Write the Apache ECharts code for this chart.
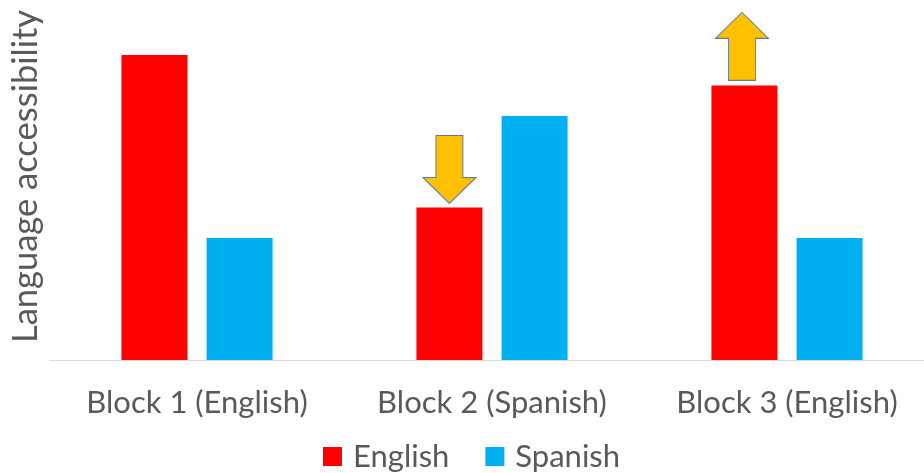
<!DOCTYPE html>
<html>
<head>
<meta charset="utf-8">
<script src="https://cdn.jsdelivr.net/npm/echarts@6/dist/echarts.min.js"></script>
<style>
  html, body { margin: 0; padding: 0; background: #ffffff; }
  #chart { width: 924px; height: 473px; }
</style>
</head>
<body>
<div id="chart"></div>
<script>
// Categories along the x axis
const blocks = ['Block 1 (English)', 'Block 2 (Spanish)', 'Block 3 (English)'];
// Accessibility scores per language
const englishValues = [5.0, 2.5, 4.5];
const spanishValues = [2.0, 4.0, 2.0];
const seriesNames = ['English', 'Spanish'];
// Change markers: which block, which direction
const changeBlocks = ['Block 2 (Spanish)', 'Block 3 (English)'];
const changeDirections = ['down', 'up'];

const textColor = '#595959';
const fontFamily = 'Lato, "Open Sans", sans-serif';

const arrowDown = 'path://M13,0 L40,0 L40,42 L53,42 L26.5,68 L0,42 L13,42 Z';
const arrowUp = 'path://M26.5,0 L53,26 L40,26 L40,68 L13,68 L13,26 L0,26 Z';

const markers = changeBlocks.map(function (b, i) {
  const idx = blocks.indexOf(b);
  const dir = changeDirections[i];
  return {
    coord: [b, englishValues[idx]],
    symbol: dir === 'down' ? arrowDown : arrowUp,
    symbolSize: [53, 68],
    symbolOffset: dir === 'down' ? [0, -38] : [-2.5, -39]
  };
});

const chart = echarts.init(document.getElementById('chart'), null, { renderer: 'canvas' });
chart.setOption({
  animation: false,
  backgroundColor: '#ffffff',
  grid: { left: 49.5, top: 0, width: 885, height: 360, containLabel: false, outerBoundsMode: 'none' },
  legend: {
    data: seriesNames,
    top: 441,
    left: 323,
    padding: 0,
    icon: 'rect',
    itemWidth: 19,
    itemHeight: 19,
    itemGap: 36,
    textStyle: { color: textColor, fontSize: 31, fontFamily: fontFamily, padding: [0, 0, 0, 6] }
  },
  xAxis: {
    type: 'category',
    data: blocks,
    axisLine: { lineStyle: { color: '#d9d9d9', width: 1 } },
    axisTick: { show: false },
    axisLabel: { color: textColor, fontSize: 31, fontFamily: fontFamily, margin: 27, interval: 0, hideOverlap: false }
  },
  yAxis: {
    type: 'value',
    min: 0,
    max: 5.9,
    name: 'Language accessibility',
    nameLocation: 'middle',
    nameGap: 6,
    nameTextStyle: { color: textColor, fontSize: 34.5, fontFamily: fontFamily, padding: [0, 0, 0, 7] },
    axisLine: { show: false },
    axisTick: { show: false },
    axisLabel: { show: false },
    splitLine: { show: false }
  },
  series: [
    {
      name: seriesNames[0],
      type: 'bar',
      data: englishValues,
      barWidth: 66,
      barGap: '29%',
      itemStyle: { color: '#ff0000' },
      markPoint: {
        label: { show: false },
        itemStyle: { color: '#ffc000', borderColor: '#5b7ba3', borderWidth: 1 },
        data: markers
      }
    },
    {
      name: seriesNames[1],
      type: 'bar',
      data: spanishValues,
      barWidth: 66,
      barGap: '29%',
      itemStyle: { color: '#00b0f0' }
    }
  ]
});
</script>
</body>
</html>
